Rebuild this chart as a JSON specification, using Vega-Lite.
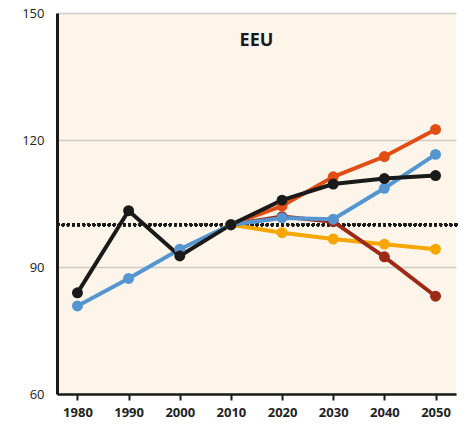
{
  "$schema": "https://vega.github.io/schema/vega-lite/v6.json",
  "width": 399,
  "height": 381,
  "autosize": {"type": "none"},
  "padding": {"left": 57, "top": 13, "right": 10, "bottom": 40},
  "background": "#ffffff",
  "config": {
    "view": {"fill": "#fdf5ea", "stroke": null},
    "font": "Open Sans"
  },
  "data": {
    "values": [
      {"series": "Yellow", "year": 2010, "value": 100},
      {"series": "Yellow", "year": 2020, "value": 98.1},
      {"series": "Yellow", "year": 2030, "value": 96.6},
      {"series": "Yellow", "year": 2040, "value": 95.4},
      {"series": "Yellow", "year": 2050, "value": 94.2},
      {"series": "DarkRed", "year": 2010, "value": 100},
      {"series": "DarkRed", "year": 2020, "value": 101.9},
      {"series": "DarkRed", "year": 2030, "value": 100.7},
      {"series": "DarkRed", "year": 2040, "value": 92.4},
      {"series": "DarkRed", "year": 2050, "value": 83.1},
      {"series": "Orange", "year": 2010, "value": 100},
      {"series": "Orange", "year": 2020, "value": 104.4},
      {"series": "Orange", "year": 2030, "value": 111.3},
      {"series": "Orange", "year": 2040, "value": 116.1},
      {"series": "Orange", "year": 2050, "value": 122.5},
      {"series": "Blue", "year": 1980, "value": 80.8},
      {"series": "Blue", "year": 1990, "value": 87.3},
      {"series": "Blue", "year": 2000, "value": 94.2},
      {"series": "Blue", "year": 2010, "value": 100},
      {"series": "Blue", "year": 2020, "value": 101.6},
      {"series": "Blue", "year": 2030, "value": 101.3},
      {"series": "Blue", "year": 2040, "value": 108.6},
      {"series": "Blue", "year": 2050, "value": 116.6},
      {"series": "Black", "year": 1980, "value": 83.9},
      {"series": "Black", "year": 1990, "value": 103.3},
      {"series": "Black", "year": 2000, "value": 92.6},
      {"series": "Black", "year": 2010, "value": 100},
      {"series": "Black", "year": 2020, "value": 105.8},
      {"series": "Black", "year": 2030, "value": 109.6},
      {"series": "Black", "year": 2040, "value": 110.9},
      {"series": "Black", "year": 2050, "value": 111.6}
    ]
  },
  "encoding": {
    "x": {
      "field": "year", "type": "quantitative",
      "scale": {"domain": [1976, 2054], "nice": false, "zero": false},
      "axis": {
        "values": [1980, 1990, 2000, 2010, 2020, 2030, 2040, 2050],
        "format": "d", "title": null, "grid": false,
        "domainColor": "#1a1a1a", "domainWidth": 2.5,
        "tickColor": "#1a1a1a", "tickWidth": 2, "tickSize": 6,
        "labelFont": "Open Sans", "labelFontSize": 13, "labelFontWeight": "bold",
        "labelColor": "#222222", "labelPadding": 6
      }
    },
    "y": {
      "field": "value", "type": "quantitative",
      "scale": {"domain": [60, 150], "nice": false, "zero": false},
      "axis": {
        "values": [60, 90, 120, 150], "title": null,
        "grid": true, "gridColor": "#cfcbc4", "gridWidth": 1.5,
        "domainColor": "#1a1a1a", "domainWidth": 3,
        "ticks": false, "labelPadding": 13,
        "labelFont": "Open Sans", "labelFontSize": 13, "labelColor": "#222222"
      }
    }
  },
  "layer": [
    {
      "mark": {"type": "rule", "strokeDash": [0.1, 5], "strokeCap": "round", "strokeWidth": 3, "color": "#1a1a1a"},
      "encoding": {"y": {"datum": 100}, "x": null}
    },
    {
      "mark": {"type": "line", "strokeWidth": 4},
      "encoding": {
        "color": {
          "field": "series", "type": "nominal", "legend": null,
          "scale": {"domain": ["Yellow", "DarkRed", "Orange", "Blue", "Black"],
                    "range": ["#f5a700", "#9c2a17", "#e04e13", "#5596d1", "#1a1a1a"]}
        }
      }
    },
    {
      "mark": {"type": "point", "filled": true, "opacity": 1, "size": 120},
      "encoding": {
        "color": {"field": "series", "type": "nominal", "legend": null}
      }
    },
    {
      "data": {"values": [{"label": "EEU", "lx": 2015, "ly": 143.5}]},
      "mark": {"type": "text", "fontSize": 18, "fontWeight": "bold", "font": "Open Sans", "color": "#1a1a1a"},
      "encoding": {
        "x": {"field": "lx", "type": "quantitative"},
        "y": {"field": "ly", "type": "quantitative"},
        "text": {"field": "label"}
      }
    }
  ]
}
